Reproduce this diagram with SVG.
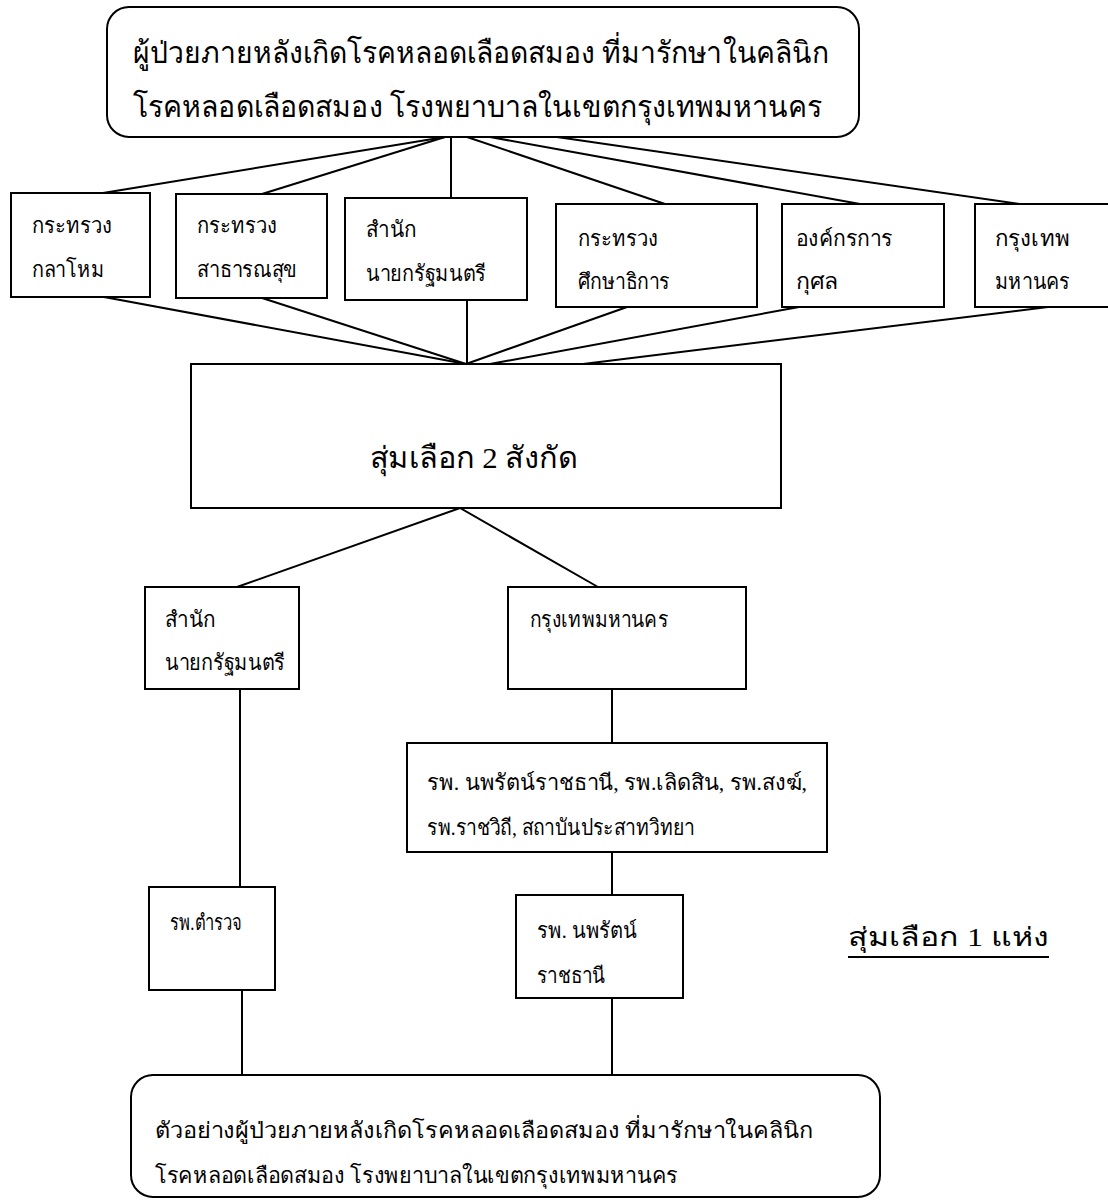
<svg xmlns="http://www.w3.org/2000/svg" width="1108" height="1200" viewBox="0 0 1108 1200">
<style>
.box{fill:#fff;stroke:#000;stroke-width:2}
.ln{stroke:#000;stroke-width:2;fill:none}
.t{font-family:"Liberation Serif","DejaVu Serif",serif;fill:#000}
.big{font-size:30px}
.sm{font-size:22px}
</style>
<rect width="1108" height="1200" fill="#fff"/>
<g id="connectors">
<line class="ln" x1="445" y1="137" x2="103" y2="193"/>
<line class="ln" x1="445" y1="137" x2="262" y2="194"/>
<line class="ln" x1="451" y1="137" x2="451" y2="198"/>
<line class="ln" x1="467" y1="137" x2="665" y2="204"/>
<line class="ln" x1="490" y1="137" x2="860" y2="204"/>
<line class="ln" x1="557" y1="137" x2="1020" y2="204"/>
<line class="ln" x1="104" y1="297" x2="466" y2="364"/>
<line class="ln" x1="259" y1="297" x2="466" y2="364"/>
<line class="ln" x1="467" y1="300" x2="467" y2="364"/>
<line class="ln" x1="627" y1="307" x2="466" y2="364"/>
<line class="ln" x1="799" y1="307" x2="490" y2="364"/>
<line class="ln" x1="1048" y1="307" x2="583" y2="364"/>
<line class="ln" x1="460" y1="508" x2="237" y2="587"/>
<line class="ln" x1="460" y1="508" x2="598" y2="587"/>
<line class="ln" x1="240" y1="689" x2="240" y2="887"/>
<line class="ln" x1="612" y1="689" x2="612" y2="743"/>
<line class="ln" x1="612" y1="852" x2="612" y2="895"/>
<line class="ln" x1="242" y1="990" x2="242" y2="1075"/>
<line class="ln" x1="612" y1="998" x2="612" y2="1075"/>
</g>
<g id="top">
<rect class="box" x="107" y="7" width="752" height="130" rx="22"/>
<text class="t big" x="133" y="63" textLength="696" lengthAdjust="spacingAndGlyphs">ผู้ป่วยภายหลังเกิดโรคหลอดเลือดสมอง ที่มารักษาในคลินิก</text>
<text class="t big" x="133" y="117" textLength="689" lengthAdjust="spacingAndGlyphs">โรคหลอดเลือดสมอง โรงพยาบาลในเขตกรุงเทพมหานคร</text>
</g>
<g id="n1">
<rect class="box" x="11" y="193" width="139" height="104"/>
<text class="t sm" x="32" y="233" textLength="80" lengthAdjust="spacingAndGlyphs">กระทรวง</text>
<text class="t sm" x="32" y="277" textLength="72" lengthAdjust="spacingAndGlyphs">กลาโหม</text>
</g>
<g id="n2">
<rect class="box" x="176" y="194" width="151" height="104"/>
<text class="t sm" x="197" y="233" textLength="80" lengthAdjust="spacingAndGlyphs">กระทรวง</text>
<text class="t sm" x="197" y="277" textLength="100" lengthAdjust="spacingAndGlyphs">สาธารณสุข</text>
</g>
<g id="n3">
<rect class="box" x="345" y="198" width="182" height="102"/>
<text class="t sm" x="366" y="237" textLength="50" lengthAdjust="spacingAndGlyphs">สำนัก</text>
<text class="t sm" x="366" y="281" textLength="120" lengthAdjust="spacingAndGlyphs">นายกรัฐมนตรี</text>
</g>
<g id="n4">
<rect class="box" x="556" y="204" width="201" height="103"/>
<text class="t sm" x="578" y="246" textLength="80" lengthAdjust="spacingAndGlyphs">กระทรวง</text>
<text class="t sm" x="578" y="289" textLength="92" lengthAdjust="spacingAndGlyphs">ศึกษาธิการ</text>
</g>
<g id="n5">
<rect class="box" x="782" y="204" width="162" height="103"/>
<text class="t sm" x="796" y="246" textLength="97" lengthAdjust="spacingAndGlyphs">องค์กรการ</text>
<text class="t sm" x="796" y="289" textLength="42" lengthAdjust="spacingAndGlyphs">กุศล</text>
</g>
<g id="n6">
<rect class="box" x="975" y="204" width="140" height="103"/>
<text class="t sm" x="995" y="246" textLength="75" lengthAdjust="spacingAndGlyphs">กรุงเทพ</text>
<text class="t sm" x="995" y="289" textLength="75" lengthAdjust="spacingAndGlyphs">มหานคร</text>
</g>
<g id="mid">
<rect class="box" x="191" y="364" width="590" height="144"/>
<text class="t big" x="370" y="468" textLength="207" lengthAdjust="spacingAndGlyphs">สุ่มเลือก 2 สังกัด</text>
</g>
<g id="l1">
<rect class="box" x="145" y="587" width="154" height="102"/>
<text class="t sm" x="165" y="627" textLength="50" lengthAdjust="spacingAndGlyphs">สำนัก</text>
<text class="t sm" x="165" y="670" textLength="120" lengthAdjust="spacingAndGlyphs">นายกรัฐมนตรี</text>
</g>
<g id="r1">
<rect class="box" x="508" y="587" width="238" height="102"/>
<text class="t sm" x="530" y="627" textLength="138" lengthAdjust="spacingAndGlyphs">กรุงเทพมหานคร</text>
</g>
<g id="r2">
<rect class="box" x="407" y="743" width="420" height="109"/>
<text class="t sm" x="427" y="790" textLength="380" lengthAdjust="spacingAndGlyphs">รพ. นพรัตน์ราชธานี, รพ.เลิดสิน, รพ.สงฆ์,</text>
<text class="t sm" x="427" y="835" textLength="268" lengthAdjust="spacingAndGlyphs">รพ.ราชวิถี, สถาบันประสาทวิทยา</text>
</g>
<g id="l2">
<rect class="box" x="149" y="887" width="126" height="103"/>
<text class="t sm" x="170" y="930" textLength="72" lengthAdjust="spacingAndGlyphs">รพ.ตำรวจ</text>
</g>
<g id="r3">
<rect class="box" x="516" y="895" width="167" height="103"/>
<text class="t sm" x="537" y="938" textLength="100" lengthAdjust="spacingAndGlyphs">รพ. นพรัตน์</text>
<text class="t sm" x="537" y="983" textLength="68" lengthAdjust="spacingAndGlyphs">ราชธานี</text>
</g>
<g id="label">
<text class="t" x="848" y="946" font-size="26" textLength="201" lengthAdjust="spacingAndGlyphs">สุ่มเลือก 1 แห่ง</text>
<line class="ln" x1="848" y1="957" x2="1049" y2="957" stroke-width="1.5"/>
</g>
<g id="bottom">
<rect class="box" x="131" y="1075" width="749" height="122" rx="22"/>
<text class="t sm" x="155" y="1138" font-size="24" textLength="658" lengthAdjust="spacingAndGlyphs">ตัวอย่างผู้ป่วยภายหลังเกิดโรคหลอดเลือดสมอง ที่มารักษาในคลินิก</text>
<text class="t sm" x="155" y="1183" font-size="24" textLength="523" lengthAdjust="spacingAndGlyphs">โรคหลอดเลือดสมอง โรงพยาบาลในเขตกรุงเทพมหานคร</text>
</g>
</svg>
